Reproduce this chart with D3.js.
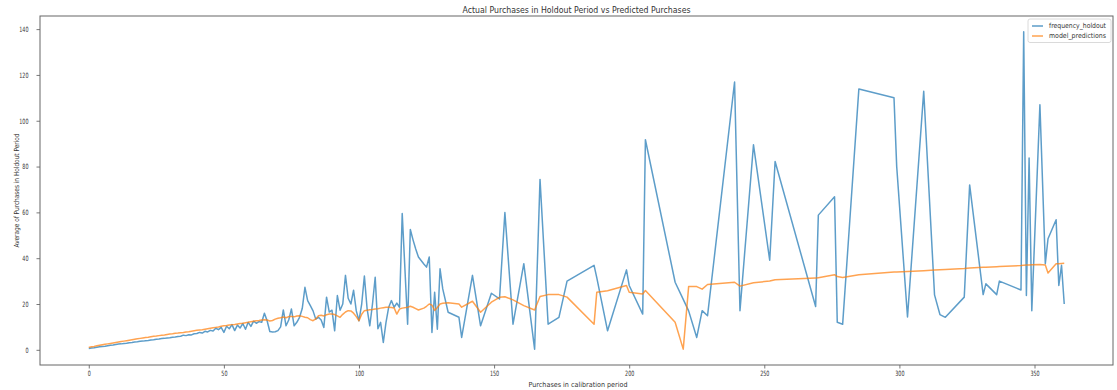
<!DOCTYPE html>
<html>
<head>
<meta charset="utf-8">
<script src="https://cdn.jsdelivr.net/npm/d3@7/dist/d3.min.js"></script>
<style>
  html, body { margin: 0; padding: 0; background: #fff; }
  svg { display: block; font-family: "DejaVu Sans", sans-serif; }
</style>
</head>
<body>
<svg id="chart" width="1117" height="390"></svg>
<script>
// ---- Data ----
const title = "Actual Purchases in Holdout Period vs Predicted Purchases";
const xLabel = "Purchases in calibration period";
const yLabel = "Average of Purchases in Holdout Period";
const seriesNames = ["frequency_holdout", "model_predictions"];
const xTicks = [0, 50, 100, 150, 200, 250, 300, 350];
const yTicks = [0, 20, 40, 60, 80, 100, 120, 140];

// Purchases in calibration period (x)
const calibration = [
  0,1,2,3,4,5,6,7,8,9,10,11,12,13,14,15,16,17,18,19,
  20,21,22,23,24,25,26,27,28,29,30,31,32,33,34,35,36,37,38,39,
  40,41,42,43,44,45,46,47,48,49,50,51,52,53,54,55,56,57,58,59,
  60,61,62,63,64,65,66,67,68,69,70,71,72,73,74,75,76,77,78,79,
  80,81,82,83,84,85,86,87,88,89,90,91,92,93,94,95,96,97,98,99,
  100,101,102,103,104,105,106,107,108,109,110,111,112,113,114,115,
  116,118,119,120,121,122,124,125,126,127,128,129,130,131,133,137,138,
  142,145,149,152,154,157,161,165,167,170,174,177,187,188,192,199,200,
  205,206,217,220,222,225,227,229,239,241,246,252,254,269,270,276,277,
  279,285,298,299,303,309,313,315,317,324,326,331,332,336,337,345,346,
  347,348,349,352,354,355,358,359,360,361
];

// frequency_holdout (blue)
const holdout = [
  0.6,0.8,0.9,1.1,1.3,1.5,1.6,1.8,2.0,2.1,2.3,2.5,2.6,2.8,2.9,3.1,3.2,3.4,3.5,3.7,
  3.8,4.0,4.1,4.3,4.4,4.6,4.7,4.9,5.0,5.2,5.3,5.5,5.6,5.8,5.9,6.4,6.2,6.6,6.5,7.0,
  7.1,7.6,7.3,8.1,7.8,8.5,8.2,9.4,8.8,9.8,7.6,10.3,9.2,11.0,8.4,10.8,9.5,11.5,9.0,12.0,
  10.2,12.5,11.6,12.3,12.0,16.0,12.7,8.0,7.8,7.9,8.4,10.0,17.4,10.5,13.0,17.8,10.5,12.0,14.2,18.0,
  27.3,21.5,19.3,17.0,13.4,14.2,13.0,9.8,23.0,16.5,17.3,8.3,23.7,17.3,20.0,32.5,22.5,20.0,26.0,17.0,
  12.7,20.0,32.2,18.0,10.5,20.0,31.7,9.2,12.0,3.2,12.0,18.6,21.5,18.6,20.4,18.6,
  59.5,11.2,52.5,48.0,44.0,40.5,37.5,36.1,40.5,7.6,25.1,9.0,35.4,26.6,16.4,14.2,5.4,
  32.5,10.5,24.7,22.2,59.9,11.2,37.6,0.3,74.4,11.2,14.2,30.0,36.9,31.5,8.3,34.9,28.1,
  15.6,91.7,29.5,22.0,17.0,5.4,17.1,14.9,116.9,17.1,89.5,39.1,82.2,18.9,58.8,66.8,12.0,
  11.2,113.9,110.0,80.0,14.3,112.9,24.0,15.4,14.2,23.0,72.0,24.1,28.8,24.1,30.0,26.1,138.8,
  23.7,83.7,17.1,107.0,37.6,48.5,56.8,28.1,36.9,20.0
];

// model_predictions (orange)
const predictions = [
  1.0,1.3,1.5,1.8,2.0,2.2,2.4,2.6,2.8,3.0,3.2,3.4,3.6,3.8,4.0,4.2,4.4,4.6,4.8,5.0,
  5.2,5.4,5.5,5.7,5.9,6.0,6.2,6.4,6.5,6.7,6.9,7.0,7.2,7.3,7.5,7.6,7.8,7.9,8.1,8.3,
  8.5,8.7,8.8,9.0,9.2,9.4,9.6,9.8,10.0,10.3,10.5,10.6,10.8,11.0,11.1,11.3,11.5,11.6,11.8,12.0,
  12.3,12.5,12.7,12.8,13.0,13.1,13.0,12.6,12.8,13.4,13.8,14.0,14.3,14.0,14.5,14.6,14.4,14.8,14.9,14.6,
  14.2,14.0,13.2,12.7,13.5,14.9,15.1,14.8,15.3,15.6,15.6,15.4,14.8,14.2,15.5,16.5,17.1,17.0,16.0,14.5,
  12.7,15.5,17.1,17.3,17.5,17.6,17.8,17.9,18.2,18.4,18.6,18.6,18.5,18.3,15.6,17.8,
  18.2,18.6,19.0,18.6,18.0,17.4,18.2,19.0,20.0,19.5,17.2,18.5,20.0,20.3,20.5,20.0,18.6,
  21.2,16.4,20.8,22.9,23.2,21.8,19.3,17.4,23.3,24.1,24.1,23.0,11.2,25.1,25.8,28.1,25.1,
  24.4,25.9,12.0,0.3,27.6,27.6,26.5,28.5,29.5,27.8,29.3,30.0,30.6,31.3,31.5,32.8,32.0,
  31.6,32.8,34.0,34.0,34.2,34.5,34.8,35.0,35.1,35.5,35.7,36.0,36.0,36.3,36.4,36.8,36.9,
  37.0,37.0,37.1,37.2,37.0,33.5,37.6,37.6,37.7,37.8
];

const colors = ["#1f77b4", "#ff7f0e"];

// ---- Layout ----
const svg = d3.select("#chart");
const plot = { left: 40, right: 1113, top: 16, bottom: 365 };

const rows = calibration.map((c, i) => ({ x: c, a: holdout[i], p: predictions[i] }));

function padded(ext) {
  const r = ext[1] - ext[0];
  return [ext[0] - 0.05 * r, ext[1] + 0.05 * r];
}
const xExt = d3.extent(calibration);
const yExt = d3.extent(holdout.concat(predictions));

const x = d3.scaleLinear().domain(padded(xExt)).range([plot.left, plot.right]);
const y = d3.scaleLinear().domain(padded(yExt)).range([plot.bottom, plot.top]);

function squeeze(sel, f) {
  sel.each(function () {
    const len = this.getComputedTextLength();
    d3.select(this).attr("textLength", len * f).attr("lengthAdjust", "spacingAndGlyphs");
  });
}

// Axes
const gx = svg.append("g")
  .attr("transform", `translate(0,${plot.bottom})`)
  .call(d3.axisBottom(x).tickValues(xTicks).tickSize(3.5).tickPadding(2.5));
const gy = svg.append("g")
  .attr("transform", `translate(${plot.left},0)`)
  .call(d3.axisLeft(y).tickValues(yTicks).tickSize(3.5).tickPadding(8));

[gx, gy].forEach(g => {
  g.select(".domain").remove();
  g.selectAll(".tick line").attr("stroke", "#555").attr("stroke-width", 0.8);
  g.selectAll(".tick text").attr("font-size", 7.3).attr("fill", "#333")
    .attr("font-family", "DejaVu Sans, sans-serif");
  squeeze(g.selectAll(".tick text"), 0.66);
});

// Lines
const lineA = d3.line().x(d => x(d.x)).y(d => y(d.a));
const lineP = d3.line().x(d => x(d.x)).y(d => y(d.p));

svg.append("clipPath").attr("id", "clip")
  .append("rect").attr("x", plot.left).attr("y", plot.top)
  .attr("width", plot.right - plot.left).attr("height", plot.bottom - plot.top);

const gl = svg.append("g").attr("clip-path", "url(#clip)");
gl.append("path").datum(rows).attr("d", lineA)
  .attr("fill", "none").attr("stroke", colors[0]).attr("stroke-width", 1.5)
  .attr("stroke-opacity", 0.72).attr("stroke-linejoin", "round");
gl.append("path").datum(rows).attr("d", lineP)
  .attr("fill", "none").attr("stroke", colors[1]).attr("stroke-width", 1.5)
  .attr("stroke-opacity", 0.72).attr("stroke-linejoin", "round");

// Frame
svg.append("rect")
  .attr("x", plot.left).attr("y", plot.top)
  .attr("width", plot.right - plot.left).attr("height", plot.bottom - plot.top)
  .attr("fill", "none").attr("stroke", "#666").attr("stroke-width", 1);

// Title & labels
svg.append("text").attr("x", (plot.left + plot.right) / 2).attr("y", 12.5)
  .attr("text-anchor", "middle").attr("font-size", 8.5).attr("fill", "#333")
  .attr("textLength", 228).attr("lengthAdjust", "spacingAndGlyphs")
  .text(title);
svg.append("text").attr("x", 578).attr("y", 386.5)
  .attr("text-anchor", "middle").attr("font-size", 7).attr("fill", "#333")
  .attr("textLength", 99).attr("lengthAdjust", "spacingAndGlyphs")
  .text(xLabel);
svg.append("text")
  .attr("transform", `translate(18.5,${(plot.top + plot.bottom) / 2}) rotate(-90)`)
  .attr("text-anchor", "middle").attr("font-size", 7).attr("fill", "#333")
  .attr("textLength", 114).attr("lengthAdjust", "spacingAndGlyphs")
  .text(yLabel);

// Legend
const lg = svg.append("g").attr("transform", "translate(1028,19)");
lg.append("rect").attr("x", 0).attr("y", 0).attr("width", 83).attr("height", 23.5)
  .attr("rx", 2).attr("fill", "#fff").attr("fill-opacity", 0.8)
  .attr("stroke", "#d0d0d0").attr("stroke-width", 0.8);
seriesNames.forEach((name, i) => {
  const yy = 7 + i * 10;
  lg.append("line").attr("x1", 4).attr("x2", 15).attr("y1", yy).attr("y2", yy)
    .attr("stroke", colors[i]).attr("stroke-width", 1.5).attr("stroke-opacity", 0.72);
  lg.append("text").attr("x", 21).attr("y", yy).attr("dy", "0.35em")
    .attr("font-size", 7).attr("fill", "#333")
    .attr("textLength", 57).attr("lengthAdjust", "spacingAndGlyphs")
    .text(name);
});
</script>
</body>
</html>
